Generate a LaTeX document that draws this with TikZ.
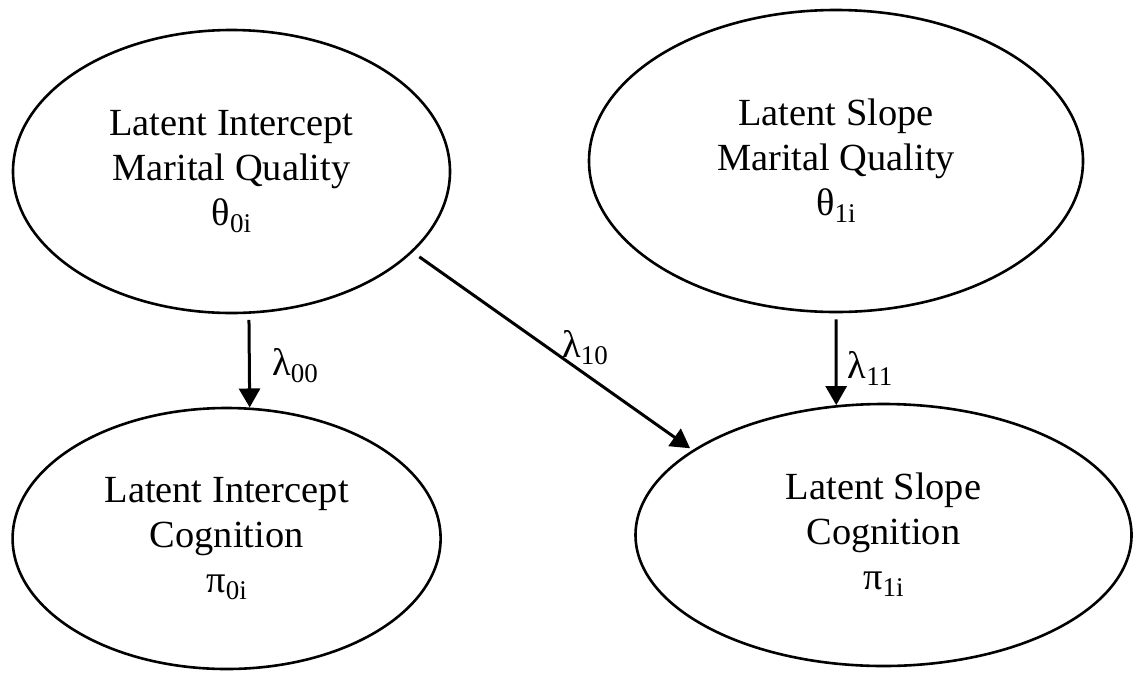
\documentclass[tikz,border=0pt]{standalone}
\usepackage{fontspec}
\setmainfont{Liberation Serif}
\usetikzlibrary{shapes.geometric,arrows.meta}
\newcommand\lowsub[1]{\raisebox{-7pt}{\fontsize{27}{27}\selectfont #1}}
\begin{document}
\begin{tikzpicture}[x=1pt,y=-1pt,
  lat/.style={draw, ellipse, line width=2.6pt, inner sep=0pt, align=center,
              font=\fontsize{38.4}{45}\selectfont},
  arr/.style={-{Triangle[width=21pt,length=19pt]}, line width=3pt},
  lab/.style={font=\fontsize{38.4}{45}\selectfont, inner sep=0pt}]
\fill[white] (0,0) rectangle (1134,673);
\useasboundingbox (0,0) rectangle (1134,673);

\node[lat, minimum width=437pt, minimum height=283pt] (tl) at (231.5,171.5)
  {Latent Intercept\\Marital Quality\\θ\lowsub{0i}};
\node[lat, minimum width=494pt, minimum height=302pt] (tr) at (836,161)
  {Latent Slope\\Marital Quality\\θ\lowsub{1i}};
\node[lat, minimum width=428pt, minimum height=261pt] (bl) at (226.6,538.5)
  {Latent Intercept\\Cognition\\π\lowsub{0i}};
\node[lat, minimum width=496pt, minimum height=262pt] (br) at (883.5,535)
  {Latent Slope\\Cognition\\π\lowsub{1i}};

\draw[arr] ([yshift=-6pt]tl.-83.3) -- (bl.80.7);
\draw[arr] ([yshift=-6pt]tr.south) -- (br.110.3);
\draw[arr, shorten <=8pt, shorten >=3pt] (tl.-24.1) -- (br.156.8);

\node[lab] (l00) at (295,366) {λ\lowsub{00}};
\node[lab] (l10) at (585,348) {λ\lowsub{10}};
\node[lab] (l11) at (870,368) {λ\lowsub{11}};
\end{tikzpicture}
\end{document}
